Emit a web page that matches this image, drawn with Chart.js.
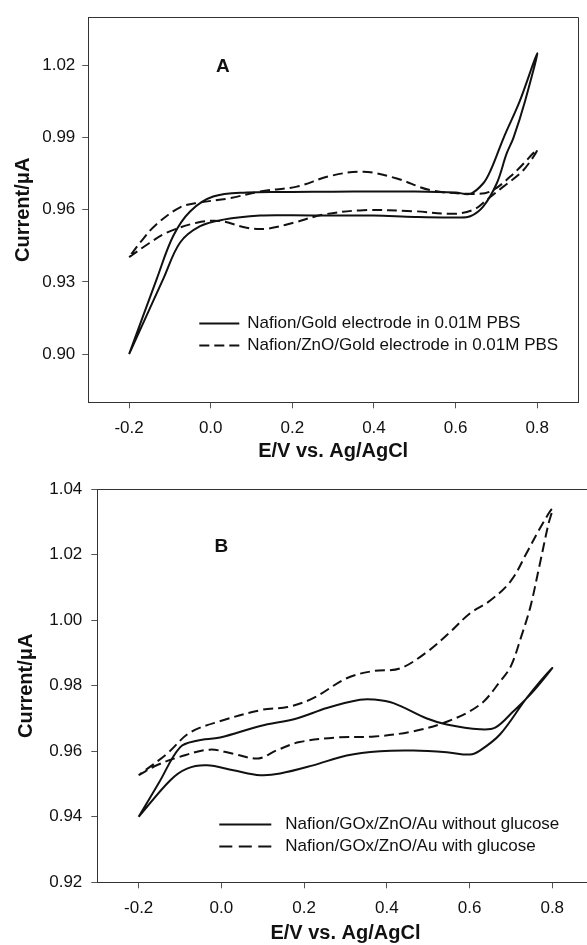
<!DOCTYPE html>
<html>
<head>
<meta charset="utf-8">
<script src="https://cdn.jsdelivr.net/npm/chart.js@4.4.1/dist/chart.umd.min.js"></script>
<style>
  html, body { margin: 0; padding: 0; background: #fff; overflow: hidden; }
  #wrap { position: relative; width: 587px; height: 945px; overflow: hidden; }
  canvas { position: absolute; left: 0; }
  #chartA { top: 0; }
  #chartB { top: 470px; }
</style>
</head>
<body>
<div id="wrap">
  <canvas id="chartA" width="587" height="470"></canvas>
  <canvas id="chartB" width="610" height="475"></canvas>
</div>
<script>
'use strict';

// ── tick values ──────────────────────────────────────────────
const xTicks  = [-0.2, 0.0, 0.2, 0.4, 0.6, 0.8];
const yTicksA = [0.90, 0.93, 0.96, 0.99, 1.02];
const yTicksB = [0.92, 0.94, 0.96, 0.98, 1.00, 1.02, 1.04];

// ── panel A: Nafion/Gold (solid) — E in V, I in µA, one closed loop
const aGoldE = [-0.2, -0.16, -0.116, -0.075, -0.026, 0.031, 0.121, 0.2, 0.3, 0.4, 0.5, 0.6,
                0.636, 0.668, 0.701, 0.725, 0.742, 0.77, 0.8,
                0.757, 0.718, 0.686, 0.668, 0.636, 0.6, 0.5, 0.4, 0.3, 0.2, 0.088, 0.006, -0.05, -0.092, -0.132, -0.2];
const aGoldI = [0.900, 0.915, 0.9314, 0.9464, 0.9532, 0.9559, 0.9576, 0.9577, 0.9576, 0.9576, 0.9570, 0.9568,
                0.9573, 0.9614, 0.971, 0.9833, 0.990, 1.005, 1.025,
                1.005, 0.990, 0.9764, 0.971, 0.9666, 0.9672, 0.9676, 0.9676, 0.9675, 0.9674, 0.9672, 0.9655, 0.9594, 0.9491, 0.9314, 0.900];

// ── panel A: Nafion/ZnO/Gold (dashed)
const aZnoE = [-0.2, -0.15, -0.108, -0.034, 0.023, 0.088, 0.137, 0.203, 0.276, 0.374, 0.497, 0.595,
               0.644, 0.676, 0.717, 0.766, 0.8,
               0.742, 0.685, 0.636, 0.537, 0.456, 0.374, 0.292, 0.211, 0.121, 0.047, -0.026, -0.075, -0.136, -0.17, -0.2];
const aZnoI = [0.9403, 0.9462, 0.9505, 0.9546, 0.9553, 0.9525, 0.9521, 0.9546, 0.958, 0.9598, 0.9594, 0.9583,
               0.960, 0.9641, 0.9696, 0.9764, 0.985,
               0.975, 0.9676, 0.9666, 0.9682, 0.973, 0.9758, 0.974, 0.9696, 0.9676, 0.9648, 0.963, 0.961, 0.9535, 0.947, 0.9403];

// ── panel B: Nafion/GOx/ZnO/Au without glucose (solid)
const bNoGluE = [-0.2, -0.124, -0.083, -0.035, 0.029, 0.094, 0.142, 0.222, 0.303, 0.384, 0.464, 0.545,
                 0.601, 0.625, 0.674, 0.738, 0.8,
                 0.754, 0.706, 0.662, 0.625, 0.545, 0.497, 0.416, 0.367, 0.335, 0.255, 0.182, 0.094, -0.003, -0.059, -0.1, -0.15, -0.2];
const bNoGluI = [0.940, 0.9511, 0.9547, 0.9557, 0.9542, 0.9527, 0.9532, 0.9557, 0.9587, 0.960, 0.9602, 0.9597,
                 0.959, 0.9602, 0.9652, 0.9762, 0.9854,
                 0.9783, 0.9722, 0.9672, 0.9667, 0.9682, 0.970, 0.9747, 0.9758, 0.9757, 0.9732, 0.970, 0.9677, 0.9642, 0.9632, 0.9612, 0.9506, 0.940];

// ── panel B: Nafion/GOx/ZnO/Au with glucose (dashed)
const bGluE = [-0.2, -0.155, -0.101, -0.028, 0.026, 0.089, 0.134, 0.189, 0.279, 0.370, 0.46, 0.545,
               0.625, 0.674, 0.70, 0.725, 0.747, 0.768, 0.79, 0.8,
               0.77, 0.74, 0.70, 0.65, 0.60, 0.55, 0.497, 0.432, 0.367, 0.303, 0.222, 0.16, 0.10, 0.0, -0.076, -0.132, -0.2];
const bGluI = [0.9527, 0.9558, 0.9583, 0.9605, 0.9593, 0.9578, 0.9603, 0.9628, 0.9642, 0.9645, 0.966, 0.969,
               0.9742, 0.9813, 0.986, 0.995, 1.004, 1.016, 1.029, 1.034,
               1.028, 1.021, 1.012, 1.006, 1.002, 0.996, 0.9903, 0.9853, 0.9845, 0.9823, 0.9762, 0.9735, 0.9727, 0.9693, 0.9657, 0.9592, 0.9527];

const toPoints = (xs, ys) => xs.map((x, i) => ({ x, y: ys[i] }));

Chart.defaults.font.family = '"Liberation Sans", Arial, sans-serif';
Chart.defaults.color = '#111';

// frame lines on top / right of the plot area
const frameBox = {
  id: 'frameBox',
  afterDraw(chart) {
    const { ctx, chartArea: a } = chart;
    ctx.save();
    ctx.strokeStyle = '#333';
    ctx.lineWidth = 1;
    ctx.beginPath();
    ctx.moveTo(Math.round(a.left) + 0.5, Math.round(a.top) + 0.5);
    ctx.lineTo(Math.round(a.right) + 0.5, Math.round(a.top) + 0.5);
    ctx.lineTo(Math.round(a.right) + 0.5, Math.round(a.bottom) + 0.5);
    ctx.stroke();
    ctx.restore();
  }
};

// legend drawn inside the plot + the panel letter
const insetLegend = {
  id: 'insetLegend',
  afterDatasetsDraw(chart, args, opts) {
    const { ctx, chartArea: a, scales } = chart;
    ctx.save();
    ctx.font = '17px "Liberation Sans", Arial, sans-serif';
    ctx.fillStyle = '#111';
    ctx.textBaseline = 'middle';
    ctx.textAlign = 'left';
    chart.data.datasets.forEach((ds, i) => {
      const x = a.left + opts.left;
      const y = Math.round(a.top + opts.top + i * opts.rowGap) + 0.5;
      ctx.beginPath();
      ctx.setLineDash(ds.borderDash ? opts.dash : []);
      ctx.lineWidth = 2;
      ctx.strokeStyle = ds.borderColor;
      ctx.moveTo(x, y);
      ctx.lineTo(x + opts.sample, y);
      ctx.stroke();
      ctx.setLineDash([]);
      ctx.fillText(ds.label, x + opts.sample + opts.gap, y);
    });
    if (opts.tag) {
      ctx.font = 'bold 19px "Liberation Sans", Arial, sans-serif';
      ctx.textAlign = 'center';
      ctx.fillText(opts.tag.text, scales.x.getPixelForValue(opts.tag.x), scales.y.getPixelForValue(opts.tag.y));
    }
    ctx.restore();
  }
};

function lineSet(label, xs, ys, dashed) {
  return {
    label,
    data: toPoints(xs, ys),
    showLine: true,
    borderColor: '#111',
    borderWidth: 2,
    borderDash: dashed ? [10, 5] : undefined,
    pointRadius: 0,
    tension: 0.35,
    fill: false
  };
}

function panel(id, datasets, cfg) {
  return new Chart(document.getElementById(id), {
    type: 'scatter',
    data: { datasets },
    plugins: [frameBox, insetLegend],
    options: {
      responsive: false,
      animation: false,
      events: [],
      layout: { padding: cfg.padding },
      plugins: {
        legend: { display: false },
        tooltip: { enabled: false },
        insetLegend: cfg.legend
      },
      scales: {
        x: {
          type: 'linear', min: -0.3, max: 0.9,
          afterFit: s => { s.height = cfg.xHeight; },
          afterBuildTicks: s => { s.ticks = xTicks.map(v => ({ value: v })); },
          grid: { drawOnChartArea: false, drawTicks: true, tickLength: 6, color: '#555' },
          border: { display: true, color: '#333', width: 1 },
          ticks: { font: { size: 17 }, color: '#111', padding: cfg.xTickPad, maxRotation: 0,
                   callback: v => v.toFixed(1) },
          title: { display: true, text: 'E/V vs. Ag/AgCl', color: '#111',
                   font: { size: 20, weight: 'bold', lineHeight: 1.2 },
                   padding: { top: 0, bottom: cfg.xTitlePad } }
        },
        y: {
          type: 'linear', min: cfg.yMin, max: cfg.yMax,
          afterFit: s => { s.width = cfg.yWidth; },
          afterBuildTicks: s => { s.ticks = cfg.yTicks.map(v => ({ value: v })); },
          grid: { drawOnChartArea: false, drawTicks: true, tickLength: 6, color: '#555' },
          border: { display: true, color: '#333', width: 1 },
          ticks: { font: { size: 17 }, color: '#111', padding: cfg.yTickPad,
                   callback: v => v.toFixed(2) },
          title: { display: true, text: 'Current/\u03BCA', color: '#111',
                   font: { size: 20, weight: 'bold', lineHeight: 1.2 },
                   padding: { top: cfg.yTitlePad, bottom: 0 } }
        }
      }
    }
  });
}

panel('chartA', [
  lineSet('Nafion/Gold electrode in 0.01M PBS', aGoldE, aGoldI, false),
  lineSet('Nafion/ZnO/Gold electrode in 0.01M PBS', aZnoE, aZnoI, true)
], {
  padding: { top: 11, right: 9, left: 0, bottom: 0 },
  xHeight: 67.7, yWidth: 88.3,
  xTickPad: 10, xTitlePad: 7, yTickPad: 7, yTitlePad: 11,
  yMin: 0.88, yMax: 1.04, yTicks: yTicksA,
  legend: { left: 111, top: 306, rowGap: 21.7, sample: 40, gap: 8, dash: [10, 5],
            tag: { text: 'A', x: 0.03, y: 1.0195 } }
});

panel('chartB', [
  lineSet('Nafion/GOx/ZnO/Au without glucose', bNoGluE, bNoGluI, false),
  lineSet('Nafion/GOx/ZnO/Au with glucose', bGluE, bGluI, true)
], {
  padding: { top: 15.3, right: 16.4, left: 0, bottom: 0 },
  xHeight: 62.7, yWidth: 97.3,
  xTickPad: 10, xTitlePad: 0, yTickPad: 9, yTitlePad: 14,
  yMin: 0.92, yMax: 1.04, yTicks: yTicksB,
  legend: { left: 122, top: 334.7, rowGap: 21.7, sample: 52, gap: 14, dash: [13, 6.5],
            tag: { text: 'B', x: 0.0, y: 1.0223 } }
});
</script>
</body>
</html>
